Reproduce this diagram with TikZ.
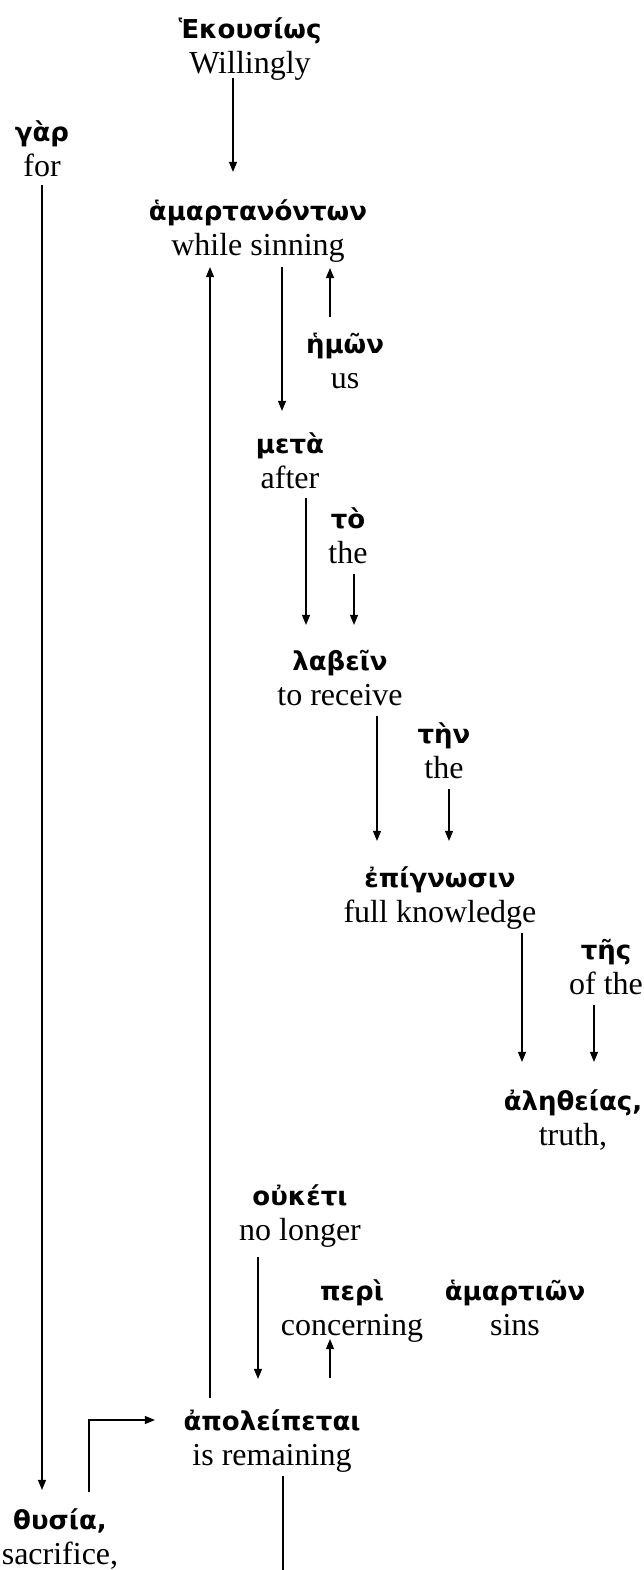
\documentclass[tikz,border=0pt]{standalone}
\usepackage{fontspec}
\setmainfont{Liberation Serif}
\newfontfamily\grkfont{DejaVu Sans}
\usetikzlibrary{arrows.meta}
\newcommand{\gw}[2]{{\grkfont\bfseries\fontsize{26}{35}\selectfont\rule{0pt}{22pt}#1}\\\rule[-8pt]{0pt}{8pt}#2}

\begin{document}
\begin{tikzpicture}[x=1pt,y=-1pt,line width=1.2pt,
    >={Triangle[length=10pt,width=8pt]},
    word/.style={align=center,inner sep=0pt,font=\fontsize{32}{35}\selectfont}]
    \useasboundingbox (0,0) rectangle (644,1570);
    % the words
    \node[word] (hek)       at (250,49)   {\gw{Ἑκουσίως}{Willingly}};
    \node[word] (gar)       at (42,152)   {\gw{γὰρ}{for}};
    \node[word] (hamart)    at (258,231)  {\gw{ἁμαρτανόντων}{while sinning}};
    \node[word] (hemon)     at (345,364)  {\gw{ἡμῶν}{us}};
    \node[word] (meta)      at (290,464)  {\gw{μετὰ}{after}};
    \node[word] (to)        at (348,539)  {\gw{τὸ}{the}};
    \node[word] (labein)    at (340,681)  {\gw{λαβεῖν}{to receive}};
    \node[word] (ten)       at (444,754)  {\gw{τὴν}{the}};
    \node[word] (epig)      at (440,898)  {\gw{ἐπίγνωσιν}{full knowledge}};
    \node[word] (tes)       at (606,970)  {\gw{τῆς}{of the}};
    \node[word] (aleth)     at (573,1121) {\gw{ἀληθείας,}{truth,}};
    \node[word] (ouketi)    at (300,1216) {\gw{οὐκέτι}{no longer}};
    \node[word] (peri)      at (352,1311) {\gw{περὶ}{concerning}};
    \node[word] (hamartion) at (515,1311) {\gw{ἁμαρτιῶν}{sins}};
    \node[word] (apoleip)   at (272,1441) {\gw{ἀπολείπεται}{is remaining}};
    \node[word] (thusia)    at (60,1540)  {\gw{θυσία,}{sacrifice,}};
    \coordinate (foot) at (283,1570);

    % the arrows
    \draw[->,shorten <=-4pt,shorten >=26pt]   (hek.south -| 233,0) -- (hamart.north -| 233,0);
    \draw[->,shorten >=17pt]                  (gar.south -| 42,0) -- (thusia.north -| 42,0);
    \draw[->,shorten <=10pt,shorten >=3pt]    (apoleip.north -| 210,0) -- (hamart.south -| 210,0);
    \draw[->,shorten <=3pt,shorten >=20pt]    (hamart.south -| 282,0) -- (meta.north -| 282,0);
    \draw[->,shorten <=14pt,shorten >=4pt]    (hemon.north -| 330,0) -- (hamart.south -| 330,0);
    \draw[->,shorten <=1pt,shorten >=23pt]    (meta.south -| 306,0) -- (labein.north -| 306,0);
    \draw[->,shorten <=2pt,shorten >=23pt]    (to.south -| 354,0) -- (labein.north -| 354,0);
    \draw[->,shorten <=2pt,shorten >=24pt]    (labein.south -| 377,0) -- (epig.north -| 377,0);
    \draw[->,shorten <=2pt,shorten >=24pt]    (ten.south -| 449,0) -- (epig.north -| 449,0);
    \draw[->,shorten <=2pt,shorten >=26pt]    (epig.south -| 522,0) -- (aleth.north -| 522,0);
    \draw[->,shorten <=2pt,shorten >=26pt]    (tes.south -| 594,0) -- (aleth.north -| 594,0);
    \draw[->,shorten <=8pt,shorten >=29pt]    (ouketi.south -| 258,0) -- (apoleip.north -| 258,0);
    \draw[->,shorten <=30pt,shorten >=-5pt]   (apoleip.north -| 330,0) -- (peri.south -| 330,0);
    \draw[->,shorten <=15pt,shorten >=28pt]   (thusia.north -| 89,0) |- (apoleip.west |- 0,1420);
    \draw[shorten <=2pt] (apoleip.south -| 283,0) -- (foot);
\end{tikzpicture}
\end{document}
